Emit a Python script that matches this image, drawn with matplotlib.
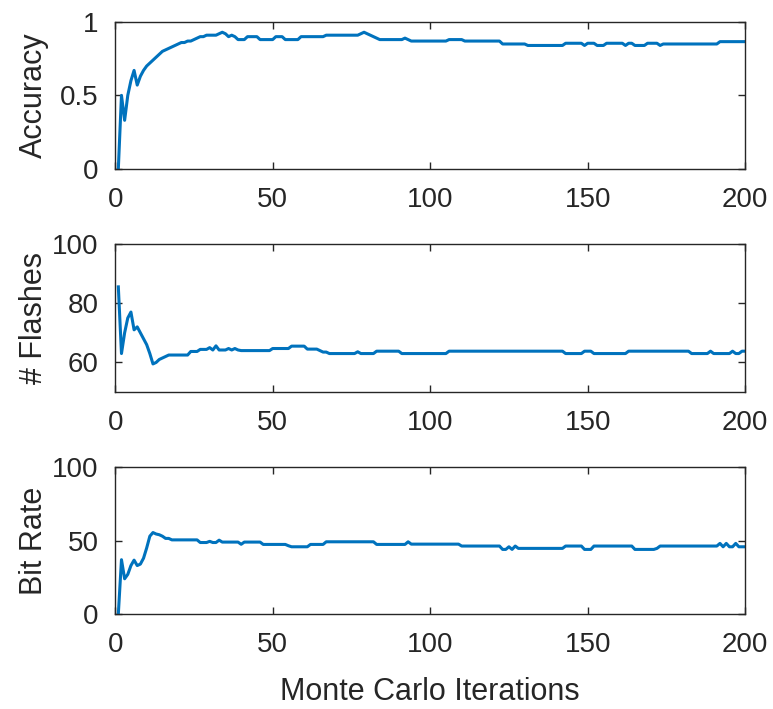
import matplotlib

matplotlib.use("Agg")
import matplotlib.pyplot as plt
import numpy as np

plt.rcParams["font.family"] = ["Liberation Sans", "DejaVu Sans"]

iterations = np.arange(1, 201)

accuracy = [
    0.0, 0.5, 0.33, 0.5, 0.6, 0.67, 0.57, 0.63, 0.67, 0.7,
    0.72, 0.74, 0.76, 0.78, 0.8, 0.81, 0.82, 0.83, 0.84, 0.85,
    0.86, 0.86, 0.87, 0.87, 0.88, 0.89, 0.9, 0.9, 0.91, 0.91,
    0.91, 0.91, 0.92, 0.93, 0.92, 0.9, 0.91, 0.9, 0.88, 0.88,
    0.88, 0.9, 0.9, 0.9, 0.9, 0.88, 0.88, 0.88, 0.88, 0.88,
    0.9, 0.9, 0.9, 0.88, 0.88, 0.88, 0.88, 0.88, 0.9, 0.9,
    0.9, 0.9, 0.9, 0.9, 0.9, 0.9, 0.91, 0.91, 0.91, 0.91,
    0.91, 0.91, 0.91, 0.91, 0.91, 0.91, 0.91, 0.92, 0.93, 0.92,
    0.91, 0.9, 0.89, 0.88, 0.88, 0.88, 0.88, 0.88, 0.88, 0.88,
    0.88, 0.89, 0.88, 0.87, 0.87, 0.87, 0.87, 0.87, 0.87, 0.87,
    0.87, 0.87, 0.87, 0.87, 0.87, 0.88, 0.88, 0.88, 0.88, 0.88,
    0.87, 0.87, 0.87, 0.87, 0.87, 0.87, 0.87, 0.87, 0.87, 0.87,
    0.87, 0.87, 0.85, 0.85, 0.85, 0.85, 0.85, 0.85, 0.85, 0.85,
    0.84, 0.84, 0.84, 0.84, 0.84, 0.84, 0.84, 0.84, 0.84, 0.84,
    0.84, 0.84, 0.855, 0.855, 0.855, 0.855, 0.855, 0.855, 0.84, 0.855,
    0.855, 0.855, 0.84, 0.84, 0.84, 0.855, 0.855, 0.855, 0.855, 0.855,
    0.855, 0.84, 0.855, 0.855, 0.84, 0.84, 0.84, 0.84, 0.855, 0.855,
    0.855, 0.855, 0.84, 0.85, 0.85, 0.85, 0.85, 0.85, 0.85, 0.85,
    0.85, 0.85, 0.85, 0.85, 0.85, 0.85, 0.85, 0.85, 0.85, 0.85,
    0.85, 0.866, 0.866, 0.866, 0.866, 0.866, 0.866, 0.866, 0.866, 0.866,
]

flashes = [
    85.5, 63.0, 70.0, 75.0, 77.0, 71.0, 72.0, 70.0, 68.0, 66.0,
    63.0, 59.5, 60.0, 61.0, 61.5, 62.0, 62.5, 62.5, 62.5, 62.5,
    62.5, 62.5, 62.5, 63.7, 63.7, 63.7, 64.4, 64.4, 64.4, 65.0,
    64.2, 65.6, 64.2, 64.2, 64.2, 64.7, 64.2, 64.7, 64.2, 64.0,
    64.0, 64.0, 64.0, 64.0, 64.0, 64.0, 64.0, 64.0, 64.0, 64.7,
    64.7, 64.7, 64.7, 64.7, 64.7, 65.5, 65.5, 65.5, 65.5, 65.5,
    64.5, 64.5, 64.5, 64.5, 64.0, 63.5, 63.5, 63.0, 63.0, 63.0,
    63.0, 63.0, 63.0, 63.0, 63.0, 63.0, 63.6, 63.0, 63.0, 63.0,
    63.0, 63.0, 63.8, 63.8, 63.8, 63.8, 63.8, 63.8, 63.8, 63.8,
    63.0, 63.0, 63.0, 63.0, 63.0, 63.0, 63.0, 63.0, 63.0, 63.0,
    63.0, 63.0, 63.0, 63.0, 63.0, 63.8, 63.8, 63.8, 63.8, 63.8,
    63.8, 63.8, 63.8, 63.8, 63.8, 63.8, 63.8, 63.8, 63.8, 63.8,
    63.8, 63.8, 63.8, 63.8, 63.8, 63.8, 63.8, 63.8, 63.8, 63.8,
    63.8, 63.8, 63.8, 63.8, 63.8, 63.8, 63.8, 63.8, 63.8, 63.8,
    63.8, 63.8, 63.0, 63.0, 63.0, 63.0, 63.0, 63.0, 63.8, 63.8,
    63.8, 63.0, 63.0, 63.0, 63.0, 63.0, 63.0, 63.0, 63.0, 63.0,
    63.0, 63.0, 63.8, 63.8, 63.8, 63.8, 63.8, 63.8, 63.8, 63.8,
    63.8, 63.8, 63.8, 63.8, 63.8, 63.8, 63.8, 63.8, 63.8, 63.8,
    63.8, 63.8, 63.0, 63.0, 63.0, 63.0, 63.0, 63.0, 63.8, 63.0,
    63.0, 63.0, 63.0, 63.0, 63.0, 63.8, 63.0, 63.0, 63.8, 63.8,
]

bit_rate = [
    0.0, 37.0, 24.0, 27.0, 33.0, 36.7, 33.0, 34.0, 38.0, 45.0,
    53.0, 55.5, 54.5, 54.0, 53.0, 51.5, 51.5, 50.5, 50.5, 50.5,
    50.5, 50.5, 50.5, 50.5, 50.5, 50.5, 48.7, 48.7, 48.7, 49.5,
    48.7, 48.7, 50.3, 49.0, 49.0, 49.0, 49.0, 49.0, 49.0, 47.5,
    49.0, 49.0, 49.0, 49.0, 49.0, 49.0, 47.4, 47.4, 47.4, 47.4,
    47.4, 47.4, 47.4, 47.4, 46.5, 45.8, 45.8, 45.8, 45.8, 45.8,
    45.8, 47.4, 47.4, 47.4, 47.4, 47.4, 49.2, 49.2, 49.2, 49.2,
    49.2, 49.2, 49.2, 49.2, 49.2, 49.2, 49.2, 49.2, 49.2, 49.2,
    49.2, 49.2, 47.4, 47.4, 47.4, 47.4, 47.4, 47.4, 47.4, 47.4,
    47.4, 47.4, 49.2, 47.6, 47.6, 47.6, 47.6, 47.6, 47.6, 47.6,
    47.6, 47.6, 47.6, 47.6, 47.6, 47.6, 47.6, 47.6, 47.6, 46.3,
    46.3, 46.3, 46.3, 46.3, 46.3, 46.3, 46.3, 46.3, 46.3, 46.3,
    46.3, 46.3, 44.0, 44.0, 45.8, 44.0, 46.3, 44.7, 44.7, 44.7,
    44.7, 44.7, 44.7, 44.7, 44.7, 44.7, 44.7, 44.7, 44.7, 44.7,
    44.7, 44.7, 46.3, 46.3, 46.3, 46.3, 46.3, 46.3, 44.0, 44.0,
    44.0, 46.3, 46.3, 46.3, 46.3, 46.3, 46.3, 46.3, 46.3, 46.3,
    46.3, 46.3, 46.3, 46.3, 44.0, 44.0, 44.0, 44.0, 44.0, 44.0,
    44.0, 44.7, 46.3, 46.3, 46.3, 46.3, 46.3, 46.3, 46.3, 46.3,
    46.3, 46.3, 46.3, 46.3, 46.3, 46.3, 46.3, 46.3, 46.3, 46.3,
    46.3, 48.1, 45.8, 48.1, 45.8, 45.8, 48.1, 45.8, 45.8, 45.8,
]

LINE_COLOR = "#0072bd"
TEXT_COLOR = "#262626"

panels = [
    (accuracy, "Accuracy", (0, 1), [0, 0.5, 1], ["0", "0.5", "1"]),
    (flashes, "# Flashes", (50, 100), [60, 80, 100], ["60", "80", "100"]),
    (bit_rate, "Bit Rate", (0, 100), [0, 50, 100], ["0", "50", "100"]),
]
boxes = [
    (0.149, 0.762, 0.815, 0.207),
    (0.149, 0.447, 0.815, 0.209),
    (0.149, 0.134, 0.815, 0.207),
]

fig = plt.figure(figsize=(7.73, 7.09), dpi=100)
for (series, label, ylim, yticks, yticklabels), box in zip(panels, boxes):
    ax = fig.add_axes(box)
    ax.plot(iterations, series, color=LINE_COLOR, linewidth=2.2)
    ax.set_xlim(0, 200)
    ax.set_ylim(*ylim)
    ax.set_xticks([0, 50, 100, 150, 200])
    ax.set_yticks(yticks)
    ax.set_yticklabels(yticklabels)
    ax.tick_params(direction="in", top=True, right=True, length=5, width=1,
                   labelsize=20, colors=TEXT_COLOR)
    ax.tick_params(axis="x", pad=13)
    ax.tick_params(axis="y", pad=12)
    for spine in ax.spines.values():
        spine.set_color(TEXT_COLOR)
        spine.set_linewidth(1)
    ax.set_ylabel(label, fontsize=22, color=TEXT_COLOR)
    ax.yaxis.set_label_coords(-0.105, 0.5)

ax.set_xlabel("Monte Carlo Iterations", fontsize=22, color=TEXT_COLOR, labelpad=14)

fig.savefig("out.png", dpi=100)
